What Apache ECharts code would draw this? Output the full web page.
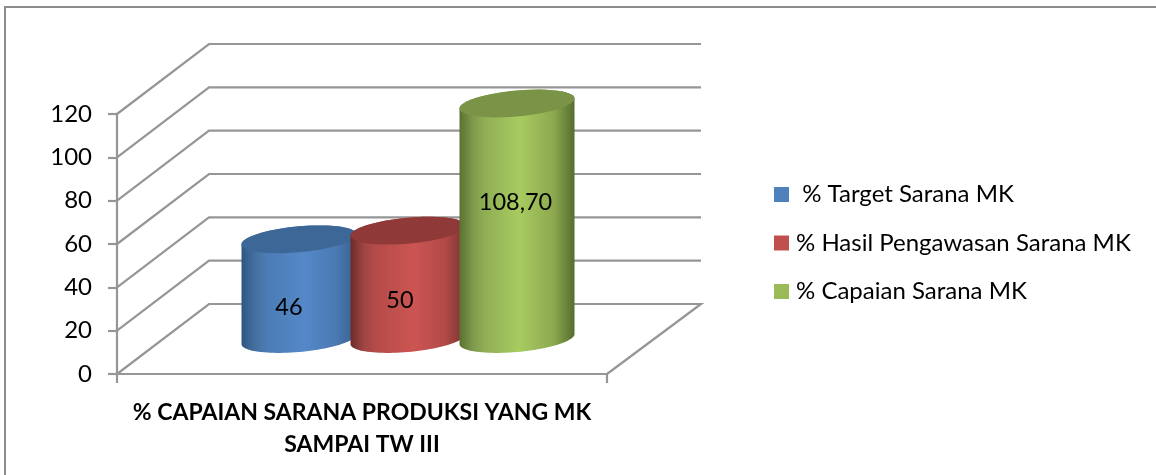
<!DOCTYPE html>
<html>
<head>
<meta charset="utf-8">
<style>html,body{margin:0;padding:0;background:#fff}#c{width:1156px;height:475px}</style>
<script src="https://cdn.jsdelivr.net/npm/echarts@6/dist/echarts.min.js"></script>
</head>
<body>
<div id="c"></div>
<script>
const categories = ['% CAPAIAN SARANA PRODUKSI YANG MK\nSAMPAI TW III'];
const seriesNames = [' % Target Sarana MK', '% Hasil Pengawasan Sarana MK', '% Capaian Sarana MK'];
const targetValues = [46];
const hasilValues = [50];
const capaianValues = [108.7];
const valueLabels = ['46', '50', '108,70'];
const yTicks = [0, 20, 40, 60, 80, 100, 120];

const FONT = 'Lato';
const GRAY = '#969696';
const DEPTH_X = 92, DEPTH_Y = -70, BACK_EXTRA = 2;
const BAR_STEP = 109, BAR_HALF = 57.5, TILT = 5, MINOR = 13;
const labelShift = [[-10, 18], [-8, 16], [-1.5, -19]];
const looks = [
  { flat: '#4f81bd', top: '#3d6796', body: [[0, '#2f5682'], [0.12, '#44709f'], [0.22, '#4c7cb5'], [0.55, '#5488c8'], [0.82, '#4b79b2'], [1, '#36608f']] },
  { flat: '#c0504d', top: '#8f3a38', body: [[0, '#6b2b2a'], [0.12, '#a04644'], [0.22, '#b44b49'], [0.55, '#cc5552'], [0.82, '#b24a48'], [1, '#7a3331']] },
  { flat: '#9bbb59', top: '#7a9346', body: [[0, '#5a7230'], [0.12, '#7f9a4c'], [0.22, '#90ae54'], [0.52, '#a8cb60'], [0.82, '#8ca94f'], [1, '#566d2d']] }
];

function ellipse(cx, cy, from, to) {
  const pts = [];
  for (let i = 0; i <= 48; i++) {
    const t = from + (to - from) * i / 48;
    pts.push([cx + BAR_HALF * Math.cos(t), cy - TILT * Math.cos(t) + MINOR * Math.sin(t)]);
  }
  return pts;
}

function cylinder(index) {
  return function (params, api) {
    const top = api.coord([api.value(0), api.value(1)]);
    const base = api.coord([api.value(0), 0]);
    const cx = top[0] + DEPTH_X / 2 + (index - 1) * BAR_STEP;
    const yTop = top[1] + DEPTH_Y / 2;
    const yBase = base[1] + DEPTH_Y / 2;
    const look = looks[index];
    const stops = look.body.map(s => ({ offset: s[0], color: s[1] }));
    const side = ellipse(cx, yBase, 0, Math.PI).concat(ellipse(cx, yTop, Math.PI, 2 * Math.PI));
    return {
      type: 'group',
      silent: true,
      children: [
        { type: 'polygon', shape: { points: side }, style: { fill: new echarts.graphic.LinearGradient(0, 0, 1, 0, stops) } },
        { type: 'polygon', shape: { points: ellipse(cx, yTop, 0, 2 * Math.PI) }, style: { fill: look.top } },
        { type: 'text', x: cx + labelShift[index][0], y: (yTop + yBase) / 2 + labelShift[index][1], z2: 10,
          style: { text: valueLabels[index], fill: '#000', font: '23.5px ' + FONT, align: 'center', verticalAlign: 'middle' } }
      ]
    };
  };
}

function wall(params, api) {
  const cs = params.coordSys;
  const y = api.coord([0, api.value(0)])[1];
  const x0 = cs.x, x1 = cs.x + cs.width;
  const pts = [[x0, y], [x0 + DEPTH_X, y + DEPTH_Y], [x1 + DEPTH_X + BACK_EXTRA, y + DEPTH_Y]];
  if (api.value(0) === 0) pts.push([x1, y]);
  return { type: 'polyline', silent: true, shape: { points: pts }, style: { stroke: GRAY, lineWidth: 2.2, fill: 'none' } };
}

const valueSets = [targetValues, hasilValues, capaianValues];
const chart = echarts.init(document.getElementById('c'), null, { renderer: 'canvas' });
chart.setOption({
  animation: false,
  backgroundColor: '#fff',
  tooltip: { show: false },
  grid: { left: 117, top: 114, width: 490, height: 260, containLabel: false },
  xAxis: {
    type: 'category', data: categories,
    axisLine: { show: true, lineStyle: { color: GRAY, width: 2.2 } },
    axisTick: { show: true, length: 9, lineStyle: { color: GRAY, width: 2.2 } },
    axisLabel: { color: '#000', fontFamily: FONT, fontWeight: 'bold', fontSize: 23, lineHeight: 32, margin: 23, interval: 0 }
  },
  yAxis: {
    type: 'value', min: 0, max: 120, interval: 20,
    splitLine: { show: false },
    axisLine: { show: true, lineStyle: { color: GRAY, width: 2.2 } },
    axisTick: { show: true, length: 9, lineStyle: { color: GRAY, width: 2.2 } },
    axisLabel: { color: '#000', fontFamily: FONT, fontSize: 24, margin: 25, padding: [3, 0, 0, 0] }
  },
  legend: {
    orient: 'vertical', left: 774, top: 180.5, padding: 0,
    selectedMode: false, icon: 'rect', itemWidth: 15, itemHeight: 15, itemGap: 20.5,
    data: seriesNames,
    textStyle: { color: '#000', fontFamily: FONT, fontSize: 24, lineHeight: 28, padding: [0, 0, 0, 2] }
  },
  graphic: [
    { type: 'polyline', silent: true, shape: { points: [[5, 475], [5, 7], [1156, 7]] }, style: { stroke: '#8c8c8c', lineWidth: 2, fill: 'none' } }
  ],
  series: [
    { type: 'custom', name: 'wall', coordinateSystem: 'cartesian2d', clip: false, z: 1, data: yTicks.map(v => [v]), encode: { y: 0 }, renderItem: wall }
  ].concat(seriesNames.map((name, i) => ({
    type: 'custom', name, coordinateSystem: 'cartesian2d', clip: false, z: 3 + i,
    itemStyle: { color: looks[i].flat },
    encode: { x: 0, y: 1 },
    data: valueSets[i].map((v, k) => [k, v]),
    renderItem: cylinder(i)
  })))
});
</script>
</body>
</html>
